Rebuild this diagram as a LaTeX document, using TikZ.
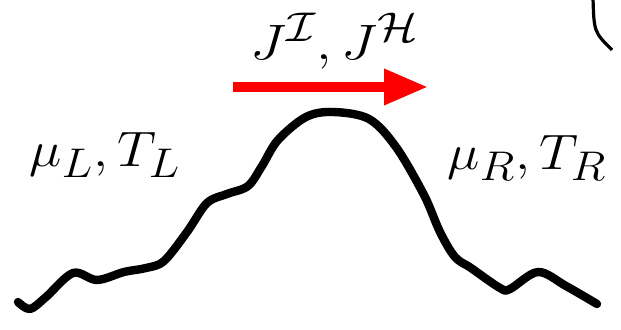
\documentclass[tikz,border=0pt]{standalone}
\usetikzlibrary{arrows.meta}
\begin{document}
\begin{tikzpicture}[x=0.5pt,y=-0.5pt,
  lbl/.style={inner sep=0pt,font=\fontsize{30}{36}\selectfont},
  flux/.style={red,line width=4.8pt,-{Triangle[length=22pt,width=17pt]}},
  wire/.style={line width=4.2pt,line cap=round,line join=round}]
\useasboundingbox (0,0) rectangle (621,330);
\node[lbl,font=\fontsize{31}{37}\selectfont] (top) at (335,41) {\scalebox{1.14}[1]{$J^{\mathcal{I}},J^{\mathcal{H}}$}};
\node[lbl] (left) at (105,155) {\scalebox{1.1}[1]{$\mu_L,T_L$}};
\node[lbl] (right) at (527,158) {\scalebox{1.1}[1]{$\mu_R,T_R$}};
\coordinate (a0) at (233,87);
\coordinate (a1) at (428,87);
\draw[flux] (a0) -- (a1);
\draw[wire] plot[smooth,tension=0.55] coordinates {
(18,302) (30,309) (46,297) (73,273) (97,280) (124,272) (146,268) (164,261)
(187,232) (207,203) (227,194) (248,186) (262,166) (278,140) (306,117) (333,112)
(369,119) (396,147) (424,195) (440,232) (455,257) (471,268) (500,288) (510,289)
(538,272) (566,286) (597,304)};
\draw[line width=1.6pt] (593,-2) .. controls (594,32) .. (612,50);
\end{tikzpicture}
\end{document}
